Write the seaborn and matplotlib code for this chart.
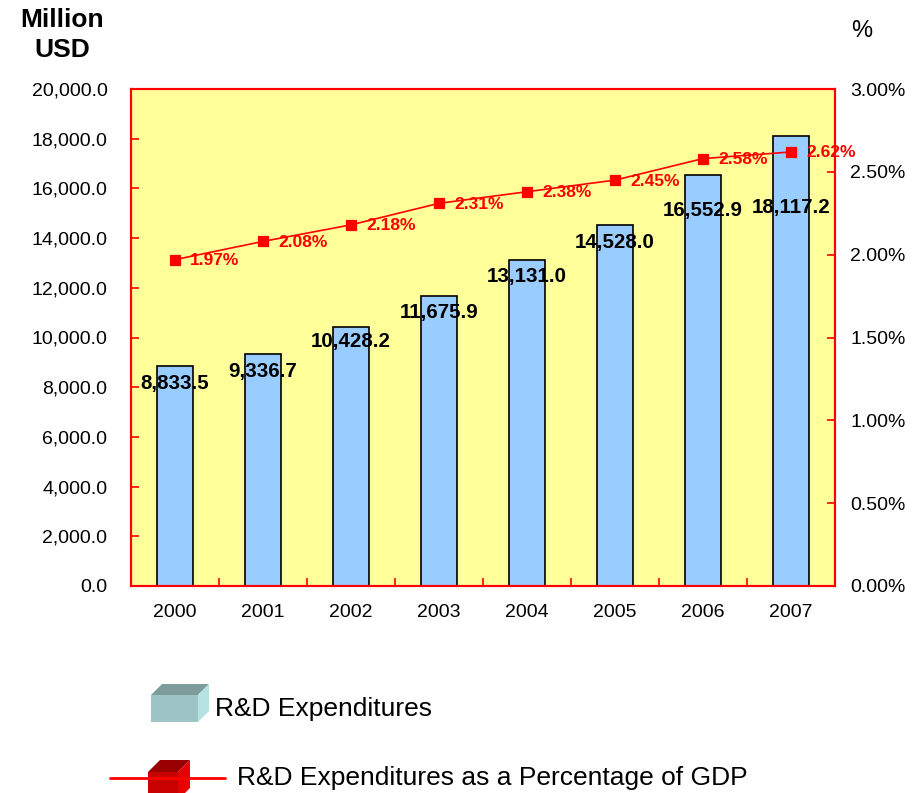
import matplotlib
matplotlib.use("Agg")
import matplotlib.pyplot as plt
from matplotlib.patches import Polygon
from matplotlib.lines import Line2D
import seaborn as sns
import pandas as pd

# R&D expenditures by year
years = ["2000", "2001", "2002", "2003", "2004", "2005", "2006", "2007"]
spend_musd = [8833.5, 9336.7, 10428.2, 11675.9, 13131.0, 14528.0, 16552.9, 18117.2]
pct_gdp = [1.97, 2.08, 2.18, 2.31, 2.38, 2.45, 2.58, 2.62]

left_ticks = [0, 2000, 4000, 6000, 8000, 10000, 12000, 14000, 16000, 18000, 20000]
right_ticks = [0.0, 0.5, 1.0, 1.5, 2.0, 2.5, 3.0]

# vertical shift (pixels) of each bar's value label below the bar top
bar_label_shift = [-17, -18, -15, -17, -17, -18, -36, -72]

df = pd.DataFrame({"year": years, "spend": spend_musd, "pct": pct_gdp})

sns.set_theme(style="white")
plt.rcParams["font.family"] = ["Liberation Sans", "DejaVu Sans"]
plt.rcParams["text.color"] = "black"
plt.rcParams["xtick.labelcolor"] = "black"
plt.rcParams["ytick.labelcolor"] = "black"

W, H = 918, 793
fig = plt.figure(figsize=(W / 100, H / 100), dpi=100)
fig.patch.set_facecolor("white")

L, R, T, B = 131, 835, 89, 586
ax = fig.add_axes([L / W, 1 - B / H, (R - L) / W, (B - T) / H])
ax.set_facecolor("#FFFF99")

sns.barplot(data=df, x="year", y="spend", ax=ax, color="#99CCFF",
            saturation=1, width=0.42, edgecolor="black", linewidth=1.2, zorder=2)

ax.set_ylim(0, 20000)
ax.set_xlim(-0.5, len(years) - 0.5)
ax.set_yticks(left_ticks)
ax.set_yticklabels([f"{v:,.1f}" for v in left_ticks])
ax.set_xticks(range(len(years)))
ax.set_xticklabels(years)
ax.set_xlabel("")
ax.set_ylabel("")
ax.tick_params(axis="y", direction="in", length=6, width=1.2, color="red",
               labelcolor="black", labelsize=14, pad=17, left=True)
ax.tick_params(axis="x", length=0, labelsize=14, labelcolor="black", pad=13)
# small inward ticks on the category boundaries
ax.set_xticks([i + 0.5 for i in range(len(years) - 1)], minor=True)
ax.tick_params(axis="x", which="minor", direction="in", length=6, width=1.2,
               color="red", bottom=True)
for s in ax.spines.values():
    s.set_color("red")
    s.set_linewidth(1.5)
    s.set_visible(True)

for i, (v, dy) in enumerate(zip(spend_musd, bar_label_shift)):
    ax.annotate(f"{v:,.1f}", xy=(i, v), xytext=(0, dy), textcoords="offset pixels",
                ha="center", va="center", fontsize=14.8, fontweight="bold",
                color="black", zorder=5)

ax2 = ax.twinx()
sns.pointplot(data=df, x="year", y="pct", ax=ax2, color="red", markers="s",
              markersize=6.5, linewidth=1.2, zorder=4)
ax2.set_ylim(0, 3.0)
ax2.set_xlim(-0.5, len(years) - 0.5)
ax2.set_yticks(right_ticks)
ax2.set_yticklabels([f"{v:.2f}%" for v in right_ticks])
ax2.set_xlabel("")
ax2.set_ylabel("")
ax2.tick_params(axis="y", direction="in", length=6, width=1.2, color="red",
                labelcolor="black", labelsize=14, pad=11, right=True, left=False)
for s in ax2.spines.values():
    s.set_color("red")
    s.set_linewidth(1.5)
    s.set_visible(True)

for i, p in enumerate(pct_gdp):
    ax2.annotate(f"{p:.2f}%", xy=(i, p), xytext=(15, -1), textcoords="offset pixels",
                 ha="left", va="center", fontsize=12.5, fontweight="bold",
                 color="red", zorder=6)

# axis unit captions
fig.text(62 / W, 1 - 20 / H, "Million", ha="center", va="center",
         fontsize=19, fontweight="bold")
fig.text(62 / W, 1 - 50 / H, "USD", ha="center", va="center",
         fontsize=19, fontweight="bold")
fig.text(862 / W, 1 - 31 / H, "%", ha="center", va="center", fontsize=17)


def px(x, y):
    return (x / W, 1 - y / H)


def cube(x0, y0, x1, y1, d, front, top, side):
    pts_front = [px(x0, y0), px(x1, y0), px(x1, y1), px(x0, y1)]
    pts_top = [px(x0, y0), px(x1, y0), px(x1 + d, y0 - d), px(x0 + d, y0 - d)]
    pts_side = [px(x1, y0), px(x1 + d, y0 - d), px(x1 + d, y1 - d), px(x1, y1)]
    for pts, c in ((pts_front, front), (pts_top, top), (pts_side, side)):
        fig.patches.append(Polygon(pts, closed=True, facecolor=c, edgecolor="none",
                                   transform=fig.transFigure, figure=fig))


# legend
cube(151, 695, 198, 722, 11, "#9CC4C4", "#7E9C9C", "#B6E2E2")
fig.text(215 / W, 1 - 709 / H, "R&D Expenditures", ha="left", va="center",
         fontsize=19)

fig.lines.append(Line2D([110 / W, 225 / W], [1 - 778 / H, 1 - 778 / H],
                        color="red", linewidth=2, transform=fig.transFigure))
cube(148, 772, 178, 800, 12, "#C80000", "#990000", "#E60000")
fig.text(237 / W, 1 - 778 / H, "R&D Expenditures as a Percentage of GDP",
         ha="left", va="center", fontsize=19)

fig.savefig("out.png", dpi=100)
